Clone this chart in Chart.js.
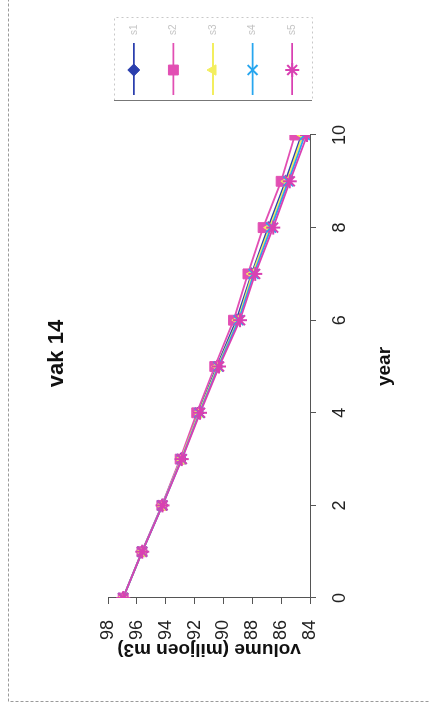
<!DOCTYPE html>
<html>
<head>
<meta charset="utf-8">
<script src="https://cdn.jsdelivr.net/npm/chart.js@4"></script>
<style>
  body { margin: 0; background: #fff; }
  #wrap {
    position: absolute;
    left: 0;
    top: 0;
    width: 707px;
    height: 430px;
    transform-origin: 0 0;
    transform: translate(0, 707px) rotate(-90deg);
  }
</style>
</head>
<body>
<div id="wrap"><canvas id="myChart" width="707" height="430"></canvas></div>
<script>
// data (chart is printed rotated on the page)
const years = [0, 1, 2, 3, 4, 5, 6, 7, 8, 9, 10];
const seriesNames = ["s1", "s2", "s3", "s4", "s5"];
const s1 = [96.95, 95.64, 94.25, 92.95, 91.75, 90.45, 89.1, 88.05, 86.9, 85.7, 84.6];
const s2 = [96.95, 95.65, 94.27, 93.0, 91.85, 90.6, 89.3, 88.3, 87.25, 86.0, 85.05];
const s3 = [96.95, 95.64, 94.24, 92.93, 91.7, 90.4, 89.0, 88.0, 86.8, 85.6, 84.5];
const s4 = [96.95, 95.63, 94.23, 92.9, 91.66, 90.35, 88.95, 87.9, 86.7, 85.5, 84.35];
const s5 = [96.95, 95.63, 94.22, 92.88, 91.62, 90.3, 88.85, 87.8, 86.55, 85.4, 84.2];
const yearTicks = [0, 2, 4, 6, 8, 10];
const volumeTicks = [84, 86, 88, 90, 92, 94, 96, 98];
const chartTitle = "vak 14";

const colors = ["#2b3fae", "#e24fb3", "#f3ee5e", "#27a6ef", "#d940b2"];
const styles = ["rectRot", "rect", "triangle", "crossRot", "star"];
const radii = [6, 7, 6, 7, 7];
const allSeries = [s1, s2, s3, s4, s5];

const font = "'Liberation Sans', Arial, sans-serif";

const datasets = allSeries.map((vals, i) => ({
  label: seriesNames[i],
  data: vals.map((v, k) => ({ x: years[k], y: v })),
  borderColor: colors[i],
  backgroundColor: colors[i],
  borderWidth: 1.8,
  pointStyle: styles[i],
  pointRadius: radii[i],
  pointBorderWidth: i >= 3 ? 2 : 1,
  tension: 0,
  order: 5 - i,
}));

// excel-like legend box with line + marker, the title, and the dashed frame round the chart
const excelLegend = {
  id: "excelLegend",
  afterDraw(chart) {
    const ctx = chart.ctx;
    const area = chart.chartArea;
    ctx.save();
    // frame
    ctx.strokeStyle = "#9a9a9a";
    ctx.lineWidth = 1;
    ctx.setLineDash([3, 2]);
    ctx.strokeRect(5.5, 8.5, 705, 430);
    // title, centred on the whole sheet like excel does
    ctx.setLineDash([]);
    ctx.fillStyle = "#111";
    ctx.font = "bold 22px " + font;
    ctx.textAlign = "center";
    ctx.textBaseline = "middle";
    ctx.fillText(chartTitle, chart.width / 2, 57);
    // legend box
    const bx = area.right + 34, bw = 83;
    const by = area.top + 6, bh = area.bottom - area.top - 4;
    ctx.strokeStyle = "#c8c8c8";
    ctx.setLineDash([2, 3]);
    ctx.strokeRect(bx + 0.5, by + 0.5, bw, bh);
    ctx.setLineDash([]);
    ctx.strokeStyle = "#777";
    ctx.beginPath();
    ctx.moveTo(bx + 0.5, by);
    ctx.lineTo(bx + 0.5, by + bh);
    ctx.stroke();
    const step = bh / datasets.length;
    datasets.forEach((ds, i) => {
      const cy = by + step * (i + 0.5);
      ctx.strokeStyle = ds.borderColor;
      ctx.lineWidth = 1.8;
      ctx.beginPath();
      ctx.moveTo(bx + 6, cy);
      ctx.lineTo(bx + 58, cy);
      ctx.stroke();
      ctx.fillStyle = ds.backgroundColor;
      ctx.lineWidth = ds.pointBorderWidth;
      Chart.helpers.drawPoint(ctx, {
        pointStyle: ds.pointStyle,
        rotation: 0,
        radius: ds.pointRadius,
        borderWidth: ds.pointBorderWidth,
      }, bx + 31, cy);
      ctx.fillStyle = "#c4c4c4";
      ctx.font = "10px " + font;
      ctx.textAlign = "left";
      ctx.textBaseline = "middle";
      ctx.fillText(ds.label, bx + 66, cy);
    });
    ctx.restore();
  },
};

const ctx = document.getElementById("myChart").getContext("2d");
const myChart = new Chart(ctx, {
  type: "line",
  data: { datasets: datasets },
  plugins: [excelLegend],
  options: {
    responsive: false,
    animation: false,
    layout: { padding: { left: 46, right: 135, top: 108, bottom: 30 } },
    plugins: {
      legend: { display: false },
      tooltip: { enabled: false },
      title: { display: false },
    },
    scales: {
      x: {
        type: "linear",
        min: 0,
        max: 10,
        afterFit: (scale) => { scale.height = 90; },
        afterBuildTicks: (scale) => { scale.ticks = yearTicks.map((v) => ({ value: v })); },
        ticks: { color: "#222", padding: 13, font: { family: font, size: 18 } },
        grid: { drawOnChartArea: false, tickLength: 6, color: "#555" },
        border: { color: "#555", width: 1 },
        title: {
          display: true,
          text: "year",
          color: "#111",
          font: { family: font, size: 19, weight: "bold" },
          padding: { top: 0, bottom: 4 },
        },
      },
      y: {
        min: 84,
        max: 98,
        afterFit: (scale) => { scale.width = 63; },
        afterBuildTicks: (scale) => { scale.ticks = volumeTicks.map((v) => ({ value: v })); },
        ticks: { color: "#222", padding: 16, font: { family: font, size: 18 } },
        grid: { drawOnChartArea: false, tickLength: 6, color: "#555" },
        border: { color: "#555", width: 1 },
        title: {
          display: true,
          text: "volume (miljoen m3)",
          color: "#111",
          font: { family: font, size: 19, weight: "bold" },
          padding: { top: 0, bottom: 0 },
        },
      },
    },
  },
});
</script>
</body>
</html>
